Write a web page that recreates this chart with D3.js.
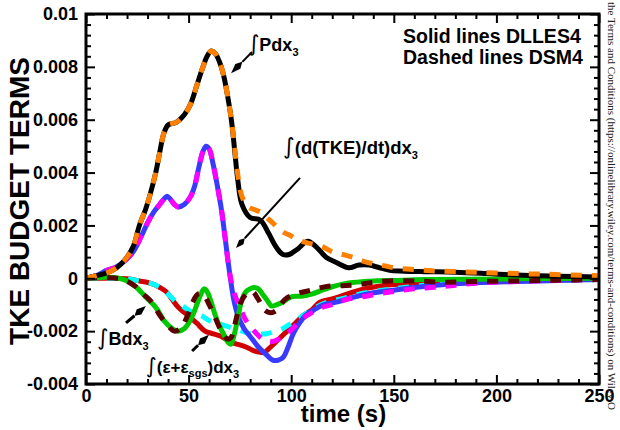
<!DOCTYPE html>
<html>
<head>
<meta charset="utf-8">
<script src="https://cdn.jsdelivr.net/npm/d3@7"></script>
<style>
  body { margin: 0; background: #fff; }
  svg { display: block; font-family: "Liberation Sans", Arial, Helvetica, sans-serif; }
</style>
</head>
<body>
<svg id="chart" width="620" height="430"></svg>
<script>
// ---- Integrated TKE budget terms vs time ----
// Solid curves: DLLES4, dashed curves: DSM4

// Shear production, ∫P dx3
const tProdLES = [0,5,10,15,19,23,26,29,31,34,36,38,40,44,48,51,54,57,59,61,63,65,67,69,71,72.5,74,76,80,85,89,92.5,96,99,103,108,112,117,122,128,133,138,143,148,155,165,180,195,210,230,250];
const prodLES  = [0,0.0001,0.0002,0.0004,0.0007,0.0012,0.002,0.0026,0.0031,0.004,0.0048,0.0055,0.0058,0.0059,0.0062,0.0066,0.0073,0.0080,0.0084,0.0086,0.0085,0.0082,0.0077,0.0069,0.0059,0.0048,0.0037,0.0028,0.0023,0.0022,0.0017,0.0012,0.0009,0.0009,0.0011,0.0014,0.0012,0.0008,0.0006,0.0004,0.0005,0.0005,0.0004,0.0003,0.00027,0.00025,0.00023,0.00018,0.00012,0.00008,0.00005];
const tProdDSM = [0,5,10,15,19,23,26,29,31,34,36,38,40,44,48,51,54,57,59,61,63,65,67,69,71,72.5,74,76,79,82,85,88,91,95,100,105,110,115,120,125,130,135,140,145,150,160,170,185,200,225,250];
const prodDSM  = [0,0.0001,0.0002,0.0004,0.0007,0.0012,0.002,0.0026,0.0031,0.004,0.0048,0.0055,0.0058,0.0059,0.0062,0.0066,0.0073,0.0080,0.0084,0.0086,0.0085,0.0082,0.0077,0.0069,0.0059,0.0049,0.0039,0.0031,0.0027,0.0026,0.0025,0.0023,0.0021,0.0018,0.0016,0.0014,0.0013,0.0012,0.0010,0.0009,0.0008,0.00065,0.00055,0.00048,0.0004,0.00033,0.00028,0.00024,0.0002,0.00015,0.0001];

// Rate of change, ∫(d(TKE)/dt) dx3
const tTkeLES = [0,5,10,14,18,23,27,30,33,36,38,39.5,41,43,45,48,51,53,55,57,58.5,60,62,64,66,68,70,72,74,77,80,84,88,91,93.5,96,98.5,101,104,107,111,116,122,130,140,150,160,175,190,210,230,250];
const tkeLES  = [0,0.0001,0.0003,0.0004,0.0006,0.001,0.0016,0.0021,0.0025,0.0028,0.003,0.0031,0.003,0.0028,0.0027,0.0028,0.0031,0.0035,0.0042,0.0048,0.005,0.0049,0.0043,0.0035,0.0026,0.0014,0.0002,-0.0008,-0.0014,-0.0019,-0.0022,-0.0026,-0.0029,-0.0031,-0.0031,-0.003,-0.0026,-0.0021,-0.0017,-0.0014,-0.0012,-0.001,-0.0009,-0.00072,-0.00055,-0.00045,-0.00035,-0.00024,-0.00017,-0.00012,-0.00008,-0.00005];
const tTkeDSM = [0,5,10,14,18,23,27,30,33,36,38,39.5,41,43,45,48,51,53,55,57,58.5,60,62,64,66,68,70,72,75,78,82,86,90,94,98,102,106,110,115,120,127,135,143,150,160,170,180,195,210,225,240,250];
const tkeDSM  = [0,0.0001,0.0003,0.0004,0.0006,0.001,0.0016,0.0021,0.0025,0.0028,0.003,0.0031,0.003,0.0028,0.0027,0.0028,0.0031,0.0035,0.0042,0.0048,0.005,0.0049,0.0043,0.0035,0.0026,0.0014,0.0002,-0.0005,-0.0011,-0.0016,-0.002,-0.0023,-0.0024,-0.0023,-0.0021,-0.0018,-0.0015,-0.0013,-0.0011,-0.001,-0.0008,-0.0007,-0.00058,-0.0005,-0.0004,-0.00034,-0.00026,-0.00016,-0.00012,-0.00009,-0.00006,-0.00004];

// Buoyancy, ∫B dx3
const tBuoyLES = [0,5,10,16,20,24,29,34,38,42,45,48,50,52,54,56,57.5,59,61,63,65,67,69,70.5,72,74,76,78,80,82,84,86,88,90.5,93,96,100,105,110,115,120,125,130,140,150,165,185,210,250];
const buoyLES  = [0,0.00002,0.00004,0,-0.0001,-0.0003,-0.0007,-0.0011,-0.0016,-0.0019,-0.002,-0.0019,-0.0017,-0.0014,-0.001,-0.0006,-0.0004,-0.0005,-0.0009,-0.0014,-0.0018,-0.0021,-0.0024,-0.0025,-0.0022,-0.0015,-0.0008,-0.0005,-0.0004,-0.00035,-0.0004,-0.0006,-0.0008,-0.00105,-0.001,-0.0009,-0.0007,-0.00068,-0.0006,-0.00045,-0.00032,-0.00022,-0.00016,-0.0001,-0.00008,-0.00005,-0.00004,-0.00002,0];
const tBuoyDSM = [0,10,18,24,28,32,36,40,43,46,49,52,54.5,57,60,63,66,69,71,73,75,78,81,84,87,90,93,97,102,107,112,118,125,132,140,148,160,175,190,210,230,250];
const buoyDSM  = [0,0.00002,-0.00005,-0.0003,-0.0006,-0.0009,-0.0014,-0.0018,-0.002,-0.0019,-0.0015,-0.0009,-0.0006,-0.0006,-0.001,-0.0015,-0.002,-0.0023,-0.0022,-0.0016,-0.001,-0.0006,-0.0005,-0.0008,-0.0012,-0.0013,-0.0012,-0.0008,-0.0006,-0.0005,-0.0004,-0.0003,-0.00028,-0.00025,-0.00015,-0.0001,-0.0001,-0.00015,-0.00012,-0.0001,-0.00007,-0.00005];

// Dissipation, ∫(ε+ε_sgs) dx3
const tDissLES = [0,10,20,26,32,36,39,42,45,48,51,54,58,62,66,70,74,78,82,85,87,90,94,98,102,106,110,114,119,124,130,138,146,155,165,180,200,225,250];
const dissLES  = [0,0,-0.00002,-0.0001,-0.0002,-0.00035,-0.0005,-0.0008,-0.0011,-0.0013,-0.0015,-0.0017,-0.002,-0.0021,-0.0022,-0.0024,-0.0025,-0.0026,-0.00275,-0.0028,-0.0028,-0.0026,-0.0023,-0.002,-0.0017,-0.0014,-0.0012,-0.0009,-0.0008,-0.00068,-0.00052,-0.00036,-0.00026,-0.00021,-0.00016,-0.00012,-0.00009,-0.00006,-0.00004];
const tDissDSM = [0,10,20,26,32,36,40,44,48,52,56,60,64,68,72,76,80,84,88,92,96,100,104,108,112,116,120,126,133,140,148,156,165,175,190,210,230,250];
const dissDSM  = [0,0,-0.00002,-0.0001,-0.0002,-0.00035,-0.0006,-0.0009,-0.0011,-0.0013,-0.0014,-0.0016,-0.0017,-0.0018,-0.0019,-0.002,-0.0021,-0.0021,-0.0021,-0.002,-0.0019,-0.0017,-0.0015,-0.0013,-0.0011,-0.00095,-0.00085,-0.00075,-0.0006,-0.0005,-0.00042,-0.00034,-0.00026,-0.0002,-0.00015,-0.0001,-0.00007,-0.00005];

// Axis ticks and labels
const xTicks = [0,50,100,150,200,250];
const xTickLabels = ["0","50","100","150","200","250"];
const yTicks = [-0.004,-0.002,0,0.002,0.004,0.006,0.008,0.01];
const yTickLabels = ["-0.004","-0.002","0","0.002","0.004","0.006","0.008","0.01"];

// ---- layout ----
const svg = d3.select("#chart");
const x = d3.scaleLinear().domain([0, 250]).range([86, 599]);
const y = d3.scaleLinear().domain([-0.004, 0.01]).range([384, 14]);

svg.append("rect").attr("width", 620).attr("height", 430).attr("fill", "#fff");

svg.append("defs").append("clipPath").attr("id", "plotClip")
  .append("rect")
  .attr("x", x(0)).attr("y", y(0.01))
  .attr("width", x(250) - x(0)).attr("height", y(-0.004) - y(0.01));

// ---- curves ----
const series = [
  { t: tDissLES, v: dissLES, color: "#d10000", dash: null },
  { t: tDissDSM, v: dissDSM, color: "#00ffff", dash: "11,10" },
  { t: tTkeLES,  v: tkeLES,  color: "#3a3aff", dash: null },
  { t: tTkeDSM,  v: tkeDSM,  color: "#ff00ff", dash: "11,10" },
  { t: tBuoyLES, v: buoyLES, color: "#00c800", dash: null },
  { t: tBuoyDSM, v: buoyDSM, color: "#5c0000", dash: "11,10" },
  { t: tProdLES, v: prodLES, color: "#000000", dash: null },
  { t: tProdDSM, v: prodDSM, color: "#ff8000", dash: "11,10" }
];

const line = d3.line()
  .x(d => x(d[0]))
  .y(d => y(d[1]))
  .curve(d3.curveCatmullRom.alpha(0.5));

const curves = svg.append("g").attr("clip-path", "url(#plotClip)");
series.forEach(s => {
  curves.append("path")
    .datum(d3.zip(s.t, s.v))
    .attr("d", line)
    .attr("fill", "none")
    .attr("stroke", s.color)
    .attr("stroke-width", 5)
    .attr("stroke-linejoin", "round")
    .attr("stroke-linecap", s.dash ? "butt" : "round")
    .attr("stroke-dasharray", s.dash);
});

// ---- axes (ticks point inward on all four sides) ----
function styleAxis(g) {
  g.select(".domain").remove();
  g.selectAll(".tick line").attr("stroke", "#000").attr("stroke-width", 2);
}
const xMinor = d3.range(0, 251, 10).filter(v => v % 50 !== 0);
const yMinor = d3.range(-40, 101, 4).map(v => v / 10000).filter(v => Math.round(v * 10000) % 20 !== 0);

// bottom
svg.append("g").attr("transform", `translate(0,${y(-0.004)})`)
  .call(d3.axisBottom(x).tickValues(xTicks).tickSizeInner(-9).tickSizeOuter(0).tickPadding(5)
    .tickFormat((d, i) => xTickLabels[i]))
  .call(styleAxis)
  .call(g => g.selectAll("text").attr("fill", "#000").attr("font-size", 18).attr("font-weight", "bold")
    .attr("font-family", "Liberation Sans, Arial, sans-serif"));
svg.append("g").attr("transform", `translate(0,${y(-0.004)})`)
  .call(d3.axisBottom(x).tickValues(xMinor).tickSizeInner(-5).tickSizeOuter(0).tickFormat(""))
  .call(styleAxis);
// top
svg.append("g").attr("transform", `translate(0,${y(0.01)})`)
  .call(d3.axisTop(x).tickValues(xTicks).tickSizeInner(-9).tickSizeOuter(0).tickFormat(""))
  .call(styleAxis);
svg.append("g").attr("transform", `translate(0,${y(0.01)})`)
  .call(d3.axisTop(x).tickValues(xMinor).tickSizeInner(-5).tickSizeOuter(0).tickFormat(""))
  .call(styleAxis);
// left
svg.append("g").attr("transform", `translate(${x(0)},0)`)
  .call(d3.axisLeft(y).tickValues(yTicks).tickSizeInner(-9).tickSizeOuter(0).tickPadding(8)
    .tickFormat((d, i) => yTickLabels[i]))
  .call(styleAxis)
  .call(g => g.selectAll("text").attr("fill", "#000").attr("font-size", 18).attr("font-weight", "bold")
    .attr("font-family", "Liberation Sans, Arial, sans-serif"));
svg.append("g").attr("transform", `translate(${x(0)},0)`)
  .call(d3.axisLeft(y).tickValues(yMinor).tickSizeInner(-5).tickSizeOuter(0).tickFormat(""))
  .call(styleAxis);
// right
svg.append("g").attr("transform", `translate(${x(250)},0)`)
  .call(d3.axisRight(y).tickValues(yTicks).tickSizeInner(-9).tickSizeOuter(0).tickFormat(""))
  .call(styleAxis);
svg.append("g").attr("transform", `translate(${x(250)},0)`)
  .call(d3.axisRight(y).tickValues(yMinor).tickSizeInner(-5).tickSizeOuter(0).tickFormat(""))
  .call(styleAxis);

// frame
svg.append("rect")
  .attr("x", x(0)).attr("y", y(0.01))
  .attr("width", x(250) - x(0)).attr("height", y(-0.004) - y(0.01))
  .attr("fill", "none").attr("stroke", "#000").attr("stroke-width", 3);

// ---- axis titles ----
svg.append("text")
  .attr("transform", `translate(29,${(y(0.01) + y(-0.004)) / 2 + 2}) rotate(-90)`)
  .attr("text-anchor", "middle")
  .attr("font-size", 28).attr("font-weight", "bold")
  .text("TKE BUDGET TERMS");

svg.append("text")
  .attr("x", (x(0) + x(250)) / 2 + 1).attr("y", 422)
  .attr("text-anchor", "middle")
  .attr("font-size", 24).attr("font-weight", "bold")
  .text("time (s)");

// ---- legend note ----
const note = svg.append("g").attr("font-size", 19.5).attr("font-weight", "bold");
note.append("text").attr("x", x(154.5)).attr("y", y(0.0089)).text("Solid lines DLLES4");
note.append("text").attr("x", x(154.5)).attr("y", y(0.0081)).text("Dashed lines DSM4");

// ---- term labels ----
function termLabel(t, v, size, parts) {
  const txt = svg.append("text").attr("x", x(t)).attr("y", y(v))
    .attr("font-size", size).attr("font-weight", "bold");
  parts.forEach(p => {
    const ts = txt.append("tspan").text(p.s);
    if (p.int) ts.attr("font-weight", "normal").attr("font-size", size + 4).attr("font-family", "DejaVu Sans");
    if (p.sub) ts.attr("font-size", 11).attr("dy", p.dy);
    else if (p.dy) ts.attr("dy", p.dy);
  });
  return txt;
}
termLabel(78.9, 0.0086, 18, [{ s: "∫", int: true }, { s: "Pdx" }, { s: "3", sub: true, dy: 5 }]);
termLabel(96, 0.0047, 18.5, [{ s: "∫", int: true }, { s: "(d(TKE)/dt)dx" }, { s: "3", sub: true, dy: 5 }]);
termLabel(5.4, -0.00252, 18, [{ s: "∫", int: true }, { s: "Bdx" }, { s: "3", sub: true, dy: 5 }]);
termLabel(29.2, -0.00358, 17, [{ s: "∫", int: true }, { s: "(ε+ε" }, { s: "sgs", sub: true, dy: 4 }, { s: ")dx", dy: -4 }, { s: "3", sub: true, dy: 5 }]);

// ---- pointer arrows ----
function arrow(t0, v0, t1, v1, headLen, headW, lineW) {
  const x0 = x(t0), y0 = y(v0), x1 = x(t1), y1 = y(v1);
  const a = Math.atan2(y1 - y0, x1 - x0);
  const bx = x1 - headLen * Math.cos(a), by = y1 - headLen * Math.sin(a);
  const px = -Math.sin(a) * headW / 2, py = Math.cos(a) * headW / 2;
  svg.append("line").attr("x1", x0).attr("y1", y0).attr("x2", bx).attr("y2", by)
    .attr("stroke", "#000").attr("stroke-width", lineW);
  const mx = x1 - headLen * 0.6 * Math.cos(a), my = y1 - headLen * 0.6 * Math.sin(a);
  svg.append("path")
    .attr("d", `M${x1},${y1} L${mx + px},${my + py} L${bx},${by} L${mx - px},${my - py} Z`)
    .attr("fill", "#000");
}
arrow(80.9, 0.00856, 70.7, 0.00776, 16, 7, 2);
arrow(104.3, 0.0038, 73.1, 0.00115, 13, 6, 2);
arrow(19.5, -0.00169, 29.2, -0.00105, 15, 7, 3);
arrow(51.7, -0.00275, 59.9, -0.00214, 15, 7, 3);

// ---- side note ----
svg.append("text")
  .attr("transform", "translate(608,2) rotate(90)")
  .attr("font-family", "Liberation Serif, Times New Roman, serif")
  .attr("font-size", 11).attr("fill", "#222")
  .text("the Terms and Conditions (https://onlinelibrary.wiley.com/terms-and-conditions) on Wiley O");
</script>
</body>
</html>
